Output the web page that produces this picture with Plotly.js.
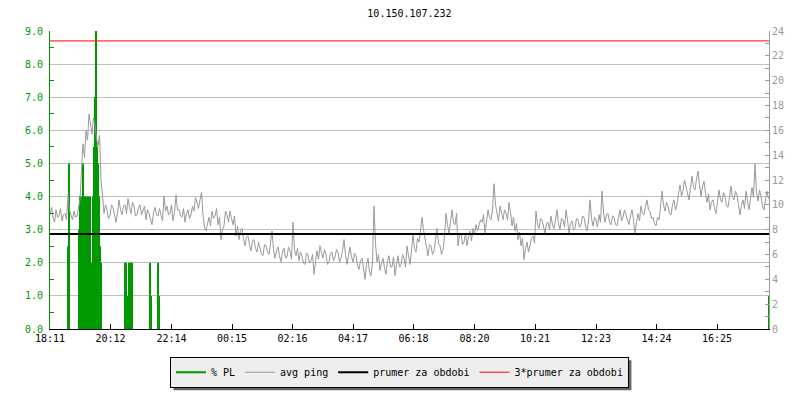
<!DOCTYPE html>
<html><head><meta charset="utf-8">
<script src="https://cdn.plot.ly/plotly-3.0.1.min.js"></script>
<style>html,body{margin:0;padding:0;background:#fff}#chart{width:800px;height:400px}</style>
</head><body><div id="chart"></div>
<script>
const chartTitle = '10.150.107.232';
const startClock = '18:11';
const sampleStepMin = 3;
const spanMin = 1438;
const tickLabels = ['18:11','20:12','22:14','00:15','02:16','04:17','06:18','08:20','10:21','12:23','14:24','16:25'];
const seriesNames = ['% PL','avg ping','prumer za obdobi','3*prumer za obdobi'];

// avg ping [ms], one sample every 3 minutes from 18:11
const pingMs = [
 9.2,9.8,9.0,8.6,9.6,9.0,9.1,9.7,8.7,9.2,9.3,8.8,10.8,9.6,9.2,8.8,9.5,9.0,9.1,9.8,10.4,12.8,14.9,13.8,
 16.0,15.2,17.3,16.5,15.7,17.0,16.4,15.4,14.7,15.6,12.0,10.8,9.3,10.0,9.6,8.9,9.1,10.0,9.8,9.2,8.6,9.4,10.4,9.6,
 9.2,9.9,10.0,9.3,10.5,9.8,9.3,10.2,9.9,9.1,9.2,9.8,10.0,9.2,9.5,9.9,8.8,9.6,9.3,8.9,8.4,9.4,9.8,9.2,
 9.1,9.7,9.2,8.7,10.7,9.5,9.9,9.2,9.3,10.0,8.7,9.4,10.8,9.6,9.6,9.1,9.0,9.7,8.6,9.3,9.6,8.9,9.2,9.9,

 9.5,10.6,10.2,9.7,10.4,11.0,9.2,8.2,7.9,8.6,9.0,8.3,9.5,8.9,9.1,9.7,8.4,9.0,7.2,8.0,8.3,9.5,9.2,8.6,
 9.5,8.9,8.4,9.1,7.5,8.3,7.2,7.9,8.1,7.3,6.7,7.4,7.5,6.8,6.3,7.1,7.2,6.5,6.2,7.0,6.6,6.0,5.9,6.8,
 6.7,6.2,6.0,6.9,7.9,6.4,5.7,6.3,6.6,5.9,5.4,6.2,6.5,5.7,5.8,6.6,6.3,5.6,8.6,6.4,5.9,6.5,5.5,6.2,
 5.9,5.3,5.2,6.1,6.0,5.3,5.5,6.0,4.4,5.4,6.3,5.6,6.7,6.1,5.7,6.4,6.0,5.2,5.4,6.1,6.2,5.5,5.8,6.4,

 6.2,5.4,5.7,6.3,7.2,6.0,5.2,5.9,6.6,5.8,5.4,6.1,5.9,5.1,4.8,5.5,5.7,4.9,4.0,5.2,5.7,4.6,4.3,5.4,
 9.9,6.9,5.4,6.0,4.7,5.3,5.7,4.9,4.4,5.5,5.9,5.0,5.0,5.8,4.3,5.2,5.9,5.0,5.1,6.0,5.7,5.0,6.7,5.9,
 5.2,6.3,7.7,6.5,6.2,7.3,7.0,7.9,9.0,8.0,7.2,6.4,5.9,6.8,6.7,6.0,6.3,7.2,8.1,6.9,6.7,6.0,6.4,7.4,
 9.3,8.4,7.7,8.6,9.6,8.6,8.4,9.3,6.7,7.6,7.7,6.8,7.0,7.7,6.7,7.4,7.9,7.1,8.1,7.6,8.4,7.9,8.3,8.8,

 8.6,9.2,7.7,8.5,9.6,9.0,8.8,9.6,11.7,10.0,9.3,8.7,9.9,9.3,8.8,9.6,9.3,8.8,10.2,9.4,8.3,9.0,7.9,8.5,
 7.2,7.8,6.7,7.3,5.6,6.5,7.0,6.2,6.7,7.3,7.5,6.9,9.5,8.4,8.1,8.9,8.8,8.2,7.7,8.5,8.6,8.0,9.1,8.4,
 8.1,8.8,9.6,8.5,8.0,8.9,8.8,8.2,9.6,8.8,7.7,8.5,8.7,8.0,8.1,8.9,8.8,8.2,8.4,9.1,9.0,8.3,7.9,8.7,
 10.4,8.9,8.3,9.0,8.8,8.2,9.2,8.6,11.1,9.4,8.6,9.2,9.3,8.6,8.4,9.1,9.0,8.4,8.3,9.0,9.6,8.7,9.0,9.6,

 9.2,8.6,8.4,9.1,9.6,8.8,7.7,8.6,9.3,8.7,9.9,9.3,9.2,9.9,10.4,9.6,9.5,8.9,9.0,8.5,8.3,9.0,8.8,9.8,
 11.1,10.0,9.5,10.2,9.9,9.3,9.2,10.0,10.4,9.6,10.0,10.9,11.6,10.7,11.1,12.0,11.5,10.8,10.4,11.4,12.3,11.4,11.2,12.1,
 12.7,11.6,10.7,11.5,11.9,10.9,10.2,10.9,9.6,10.2,10.4,9.7,9.3,10.3,11.2,10.4,10.2,11.0,10.7,9.9,9.8,10.6,11.5,10.6,
 10.4,11.1,10.8,10.0,9.2,10.0,10.4,9.7,11.1,10.3,9.6,10.5,11.4,10.6,13.3,11.0,10.3,11.2,10.7,9.9,9.6,10.4,11.1,10.5
];

// packet loss [%] samples (only non-zero ones)
const plTimes = ['18:47','18:49','19:09','19:11','19:13','19:15','19:17','19:19','19:21','19:23','19:25','19:27',
 '19:29','19:31','19:33','19:35','19:37','19:39','19:41','19:43','19:45','19:47','19:49','19:51','19:53',
 '20:41','20:43','20:45','20:49','20:51','20:53','20:55','21:31','21:33','21:47','21:49','18:09'];
const plValues = [2.5,5.0,3.0,4.0,2.0,4.0,5.0,2.0,4.0,4.0,2.0,4.0,
 2.0,4.0,2.0,2.0,4.0,5.5,7.0,9.0,5.5,5.0,4.0,2.5,2.0,
 2.0,2.0,1.0,2.0,1.0,2.0,2.0,2.0,1.0,2.0,1.0,1.0];

const meanPing = 7.65;
const tripleMeanPing = 23.2;

const [sh, sm] = startClock.split(':').map(Number);
const BASE = Date.UTC(2024, 0, 1, sh, sm);
function iso(ms){ return new Date(ms).toISOString().replace('T',' ').slice(0,19); }
function atOffset(min){ return iso(BASE + min*60000); }
function atClock(hhmm){
  const [h, m] = hhmm.split(':').map(Number);
  let d = Date.UTC(2024, 0, 1, h, m);
  if (d < BASE) d += 86400000;
  return iso(d);
}

const pingX = pingMs.map((_, i) => atOffset(i*sampleStepMin));
const plX = [], plY = [];
plTimes.forEach((t, i) => { const x = atClock(t); plX.push(x, x, null); plY.push(0, plValues[i], null); });
const xStart = atOffset(0), xEnd = atOffset(spanMin);

const FONT = 'DejaVu Sans Mono, monospace';
const GREEN = '#009900';

const traces = [
  {name: seriesNames[0], x: plX, y: plY, type: 'scatter', mode: 'lines', yaxis: 'y',
   line: {color: GREEN, width: 2}, connectgaps: false, hoverinfo: 'skip'},
  {name: seriesNames[1], x: pingX, y: pingMs, type: 'scatter', mode: 'lines', yaxis: 'y2',
   line: {color: '#999999', width: 1}},
  {name: seriesNames[2], x: [xStart, xEnd], y: [meanPing, meanPing], type: 'scatter', mode: 'lines', yaxis: 'y2',
   line: {color: '#000000', width: 2}},
  {name: seriesNames[3], x: [xStart, xEnd], y: [tripleMeanPing, tripleMeanPing], type: 'scatter', mode: 'lines', yaxis: 'y2',
   line: {color: '#ff0000', width: 1}}
];

const layout = {
  width: 800, height: 400,
  margin: {l: 50, r: 31, t: 31, b: 69, pad: 0},
  paper_bgcolor: '#ffffff', plot_bgcolor: '#ffffff',
  font: {family: FONT, size: 10, color: '#000'},
  title: {text: chartTitle, x: 0.5, xref: 'paper', xanchor: 'center', y: 1 - 13/400, yref: 'container', yanchor: 'middle',
          font: {family: FONT, size: 10, color: '#000'}},
  showlegend: true,
  legend: {orientation: 'h', x: 0.486, xanchor: 'center', y: -0.093, yanchor: 'top',
           bgcolor: '#eeeeee', bordercolor: '#000', borderwidth: 1, font: {family: FONT, size: 10, color: '#000'},
           itemwidth: 30, traceorder: 'normal'},
  xaxis: {type: 'date', range: [xStart, xEnd], tickvals: tickLabels.map(atClock), ticktext: tickLabels,
          ticks: 'inside', ticklen: 5, tickcolor: '#000', tickwidth: 1, showline: true, linecolor: '#000', linewidth: 1,
          showgrid: false, zeroline: false, tickfont: {family: FONT, size: 10, color: '#000'}, fixedrange: true},
  yaxis: {range: [0, 9], dtick: 1, tick0: 0, tickformat: '.1f', showgrid: true, gridcolor: '#c0c0c0', gridwidth: 1,
          ticks: '', showline: true, linecolor: GREEN, linewidth: 1, zeroline: false, ticklabelstandoff: 4,
          tickfont: {family: FONT, size: 10, color: GREEN},
          minor: {dtick: 0.5, tick0: 0, ticks: 'inside', ticklen: 4, tickcolor: GREEN, showgrid: false}},
  yaxis2: {overlaying: 'y', side: 'right', range: [0, 24], dtick: 2, tick0: 0, showgrid: false, zeroline: false,
           ticks: 'inside', ticklen: 4, tickcolor: '#999999', showline: true, linecolor: '#999999', linewidth: 1,
           tickfont: {family: FONT, size: 10, color: '#999999'},
           minor: {dtick: 1, tick0: 0, ticks: 'inside', ticklen: 4, tickcolor: '#999999', showgrid: false}}
};

Plotly.newPlot('chart', traces, layout, {displayModeBar: false, staticPlot: true}).then(gd => {
  const bg = gd.querySelector('.legend .bg');
  if (!bg) return;
  const r = bg.getBoundingClientRect();
  const s = gd._fullLayout._size;
  const px = v => (v - s.l) / s.w, py = v => (s.t + s.h - v) / s.h;
  Plotly.relayout(gd, {shapes: [{type: 'rect', xref: 'paper', yref: 'paper', layer: 'above',
    x0: px(r.left + 3), x1: px(r.right + 3), y0: py(r.bottom + 3), y1: py(r.top + 3),
    fillcolor: '#666666', line: {width: 0}}]});
});
</script>
</body></html>
